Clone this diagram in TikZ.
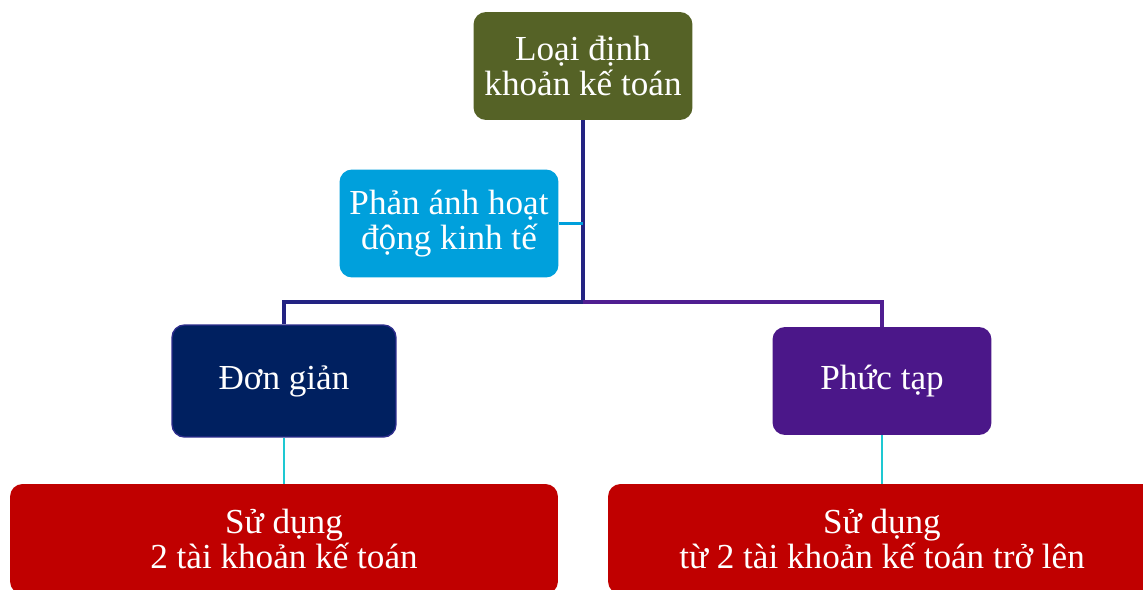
\documentclass[tikz,border=0pt]{standalone}
\usepackage{fontspec}
\setmainfont{Liberation Serif}
\definecolor{oliu}{RGB}{85,98,38}
\definecolor{xanhduong}{RGB}{0,160,220}
\definecolor{xanhdam}{RGB}{0,32,96}
\definecolor{vien}{RGB}{45,45,140}
\definecolor{tim}{RGB}{75,23,137}
\definecolor{do}{RGB}{192,0,0}
\definecolor{ngoc}{RGB}{30,200,210}
\definecolor{daynoi}{RGB}{35,35,130}
\definecolor{daytim}{RGB}{80,30,145}

\begin{document}
\begin{tikzpicture}[x=0.02cm,y=-0.02cm,
        khoi/.style={rounded corners=0.25cm,text=white,align=center,inner sep=0pt,
          font=\fontsize{20}{20}\selectfont},
        hop/.style={khoi,minimum width=4.38cm,minimum height=2.16cm},
        hopdai/.style={khoi,fill=do,minimum width=10.96cm,minimum height=2.2cm},
        day/.style={line width=2pt}]
      \clip (0,0) rectangle (1143,589);
      \node [hop,fill=oliu]       (loai)    at (583,66)    {Loại định\\khoản kế toán};
      \node [hop,fill=xanhduong]  (phananh) at (449,223.5) {Phản ánh hoạt\\động kinh tế};
      \node [hop,fill=xanhdam,draw=vien,line width=0.8pt,minimum width=4.48cm,minimum height=2.24cm]
                                  (don)     at (284,381)   {Đơn giản};
      \node [hop,fill=tim]        (phuc)    at (882,381)   {Phức tạp};
      \node [hopdai]              (sd1)     at (284,539)   {Sử dụng\\2 tài khoản kế toán};
      \node [hopdai]              (sd2)     at (882,539)   {Sử dụng\\từ 2 tài khoản kế toán trở lên};
      \coordinate (hub) at (583,302);
      \coordinate (nhanh) at (583,223.5);
      % cay chinh
      \draw [day,daynoi] (loai.south) -- (hub) -| (don.north);
      \draw [day,daytim] (hub) -| (phuc.north);
      \draw [line width=1.4pt,xanhduong] (phananh.east) -- (nhanh);
      % xuong hop do
      \draw [line width=1.6pt,ngoc] (don.south) -- (sd1.north);
      \draw [line width=1.6pt,ngoc] (phuc.south) -- (sd2.north);
\end{tikzpicture}
\end{document}
